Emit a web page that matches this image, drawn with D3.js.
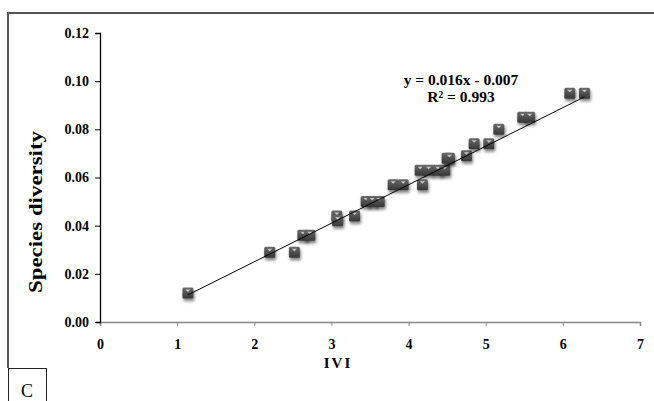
<!DOCTYPE html>
<html>
<head>
<meta charset="utf-8">
<title>Species diversity vs IVI</title>
<script src="https://cdn.jsdelivr.net/npm/d3@7"></script>
<style>
  body { margin: 0; background: #fff; }
  text { font-family: "Liberation Serif", "Times New Roman", serif; }
</style>
</head>
<body>
<div id="chart"></div>
<script>
// values
var ivi = [1.14, 2.20, 2.52, 2.63, 2.72, 3.07, 3.08, 3.30, 3.45, 3.53, 3.62, 3.80, 3.93,
           4.15, 4.18, 4.26, 4.38, 4.47, 4.50, 4.53, 4.75, 4.85, 5.04, 5.17, 5.48, 5.57, 6.09, 6.28];
var diversity = [0.012, 0.029, 0.029, 0.036, 0.036, 0.044, 0.042, 0.044, 0.050, 0.050, 0.050, 0.057, 0.057,
                 0.063, 0.057, 0.063, 0.063, 0.063, 0.068, 0.068, 0.069, 0.074, 0.074, 0.080, 0.085, 0.085, 0.095, 0.095];
var xTicks = [0, 1, 2, 3, 4, 5, 6, 7];
var yTicks = [0, 0.02, 0.04, 0.06, 0.08, 0.10, 0.12];
var slope = 0.016, intercept = -0.007;
var eqLines = ["y = 0.016x - 0.007", "R² = 0.993"];

var W = 654, H = 401;
var svg = d3.select("#chart").append("svg")
  .attr("width", W).attr("height", H);

var defs = svg.append("defs");
var grad = defs.append("linearGradient").attr("id", "mk")
  .attr("x1", 0).attr("y1", 0).attr("x2", 0).attr("y2", 1);
grad.append("stop").attr("offset", "0%").attr("stop-color", "#6a6a6a");
grad.append("stop").attr("offset", "100%").attr("stop-color", "#363636");
var sh = defs.append("filter").attr("id", "shadow")
  .attr("x", "-50%").attr("y", "-50%").attr("width", "200%").attr("height", "200%");
sh.append("feDropShadow").attr("dx", 1).attr("dy", 2.5).attr("stdDeviation", 1.5)
  .attr("flood-color", "#000").attr("flood-opacity", 0.5);

// outer frame and panel label
svg.append("path").attr("d", "M8,368 V13 H654")
  .attr("fill", "none").attr("stroke", "#555").attr("stroke-width", 2);
svg.append("rect").attr("x", 8.5).attr("y", 368.5).attr("width", 38).attr("height", 40)
  .attr("fill", "#fff").attr("stroke", "#222");
svg.append("text").attr("x", 27).attr("y", 397).attr("text-anchor", "middle")
  .style("font-size", "18px").text("C");

var x = d3.scaleLinear().domain([0, 7]).range([100, 640]);
var y = d3.scaleLinear().domain([0, 0.12]).range([322, 33]);

var gx = svg.append("g").attr("transform", "translate(0,322)")
  .call(d3.axisBottom(x).tickValues(xTicks).tickFormat(d3.format("d")).tickSize(4).tickPadding(13));
gx.select(".domain").attr("stroke", "#888").attr("stroke-width", 1.5);
gx.selectAll(".tick line").attr("stroke", "#888");

var gy = svg.append("g").attr("transform", "translate(100,0)")
  .call(d3.axisLeft(y).tickValues(yTicks).tickFormat(d3.format(".2f")).tickSize(5).tickPadding(6));
gy.select(".domain").attr("stroke", "#000").attr("stroke-width", 1.3);
gy.selectAll(".tick line").attr("stroke", "#000");

svg.selectAll(".tick text")
  .style("font-family", "'Liberation Serif', 'Times New Roman', serif")
  .style("font-size", "14px").style("font-weight", "bold").attr("fill", "#000");

// axis titles
svg.append("text").attr("x", 338).attr("y", 368).attr("text-anchor", "middle")
  .style("font-size", "15px").style("font-weight", "bold").style("letter-spacing", "2px")
  .text("IVI");
svg.append("text").attr("transform", "translate(42,212) rotate(-90)")
  .attr("text-anchor", "middle")
  .attr("textLength", 162).attr("lengthAdjust", "spacingAndGlyphs")
  .style("font-size", "19px").style("font-weight", "bold")
  .text("Species diversity");

// points
var pts = ivi.map(function(d, i) { return [d, diversity[i]]; });
var s = 11;
var mk = svg.append("g").selectAll("g").data(pts).enter().append("g")
  .attr("transform", function(d) { return "translate(" + x(d[0]) + "," + y(d[1]) + ")"; });
mk.append("rect")
  .attr("x", -s / 2).attr("y", -s / 2).attr("width", s).attr("height", s).attr("rx", 1.5)
  .attr("fill", "url(#mk)").attr("filter", "url(#shadow)");
mk.append("path").attr("d", "M-2.5,-3.5 L2.5,-3.5 L0,-1 Z").attr("fill", "#c8c8c8");

// trend line
var xr = d3.extent(ivi);
svg.append("line")
  .attr("x1", x(xr[0])).attr("y1", y(slope * xr[0] + intercept))
  .attr("x2", x(xr[1])).attr("y2", y(slope * xr[1] + intercept))
  .attr("stroke", "#000").attr("stroke-width", 1);

// equation
svg.selectAll(".eq").data(eqLines).enter().append("text")
  .attr("class", "eq")
  .attr("x", 461).attr("y", function(d, i) { return 85 + i * 17; })
  .attr("text-anchor", "middle")
  .style("font-size", "15.5px").style("font-weight", "bold")
  .text(function(d) { return d; });
</script>
</body>
</html>
